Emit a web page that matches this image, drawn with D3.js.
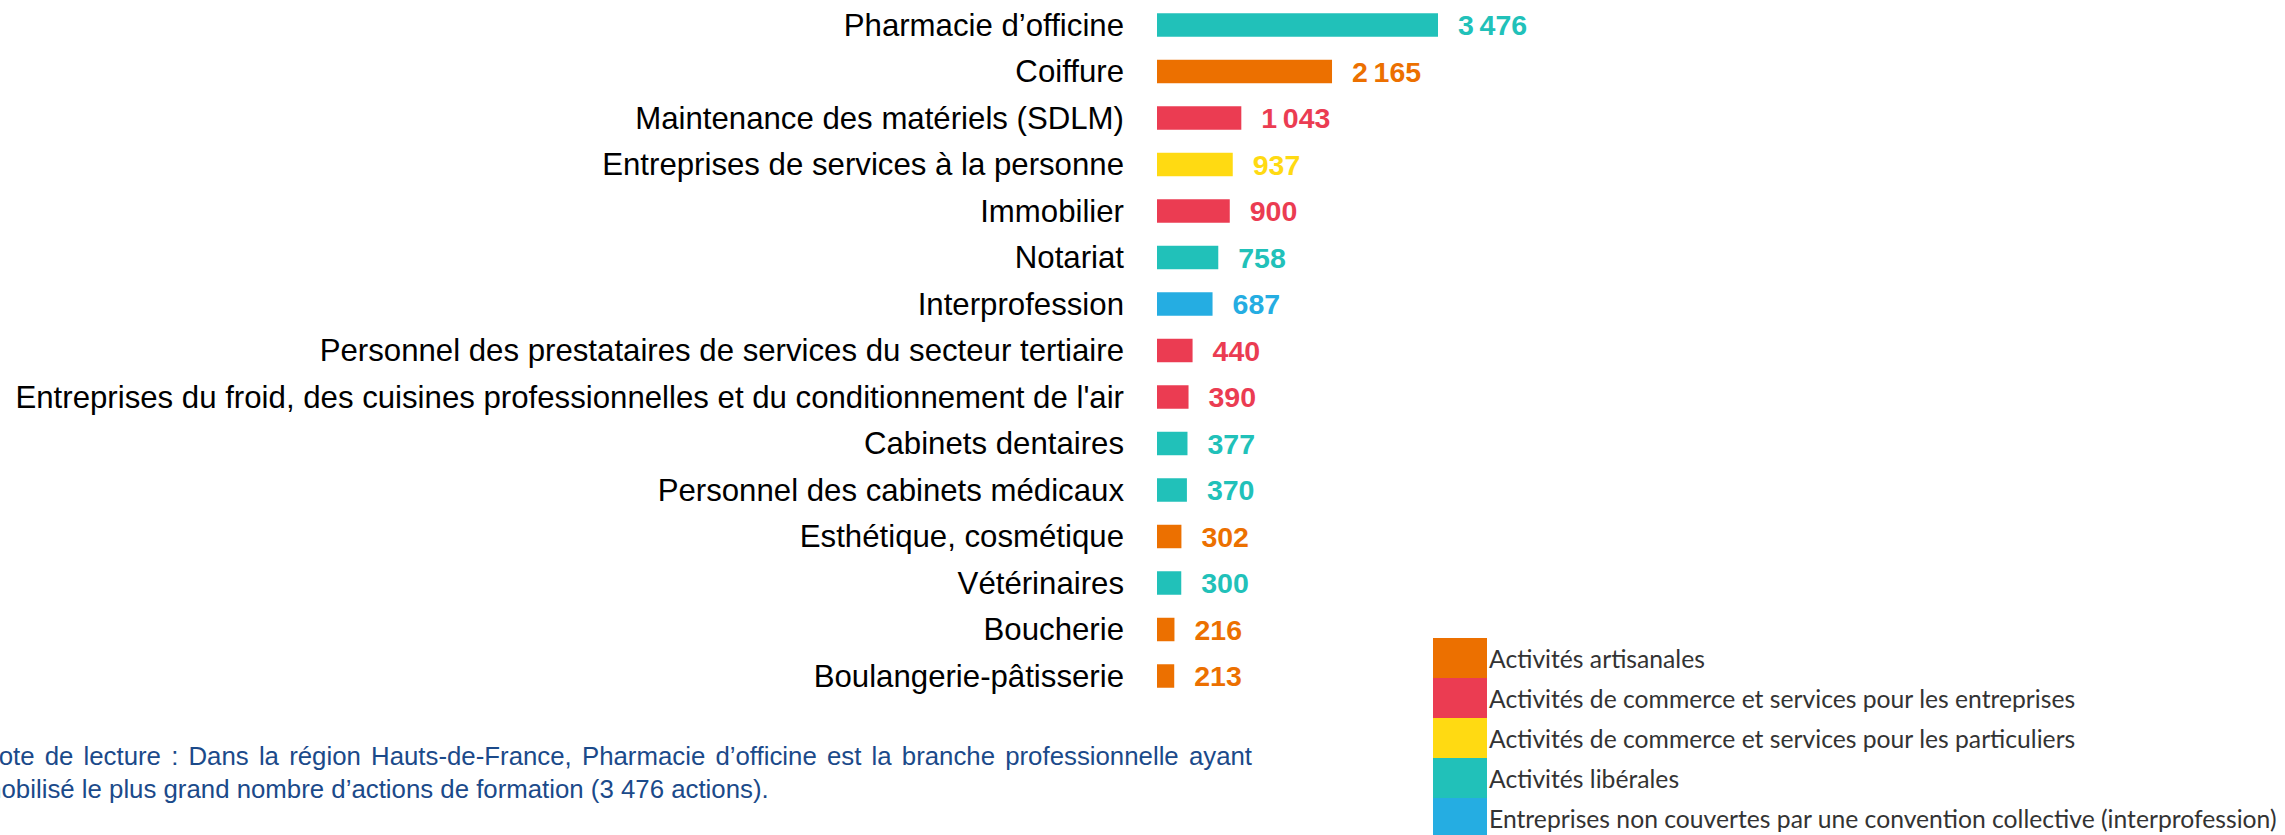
<!DOCTYPE html>
<html lang="fr">
<head>
<meta charset="utf-8">
<script src="https://cdn.jsdelivr.net/npm/d3@7"></script>
<style>
  html, body { margin: 0; padding: 0; background: #ffffff; }
  svg { display: block; }
</style>
</head>
<body>
<svg id="chart" width="2285" height="835"></svg>
<script>
// Branches professionnelles : nombre d'actions de formation (Hauts-de-France)
const branches = [
  "Pharmacie d’officine",
  "Coiffure",
  "Maintenance des matériels (SDLM)",
  "Entreprises de services à la personne",
  "Immobilier",
  "Notariat",
  "Interprofession",
  "Personnel des prestataires de services du secteur tertiaire",
  "Entreprises du froid, des cuisines professionnelles et du conditionnement de l'air",
  "Cabinets dentaires",
  "Personnel des cabinets médicaux",
  "Esthétique, cosmétique",
  "Vétérinaires",
  "Boucherie",
  "Boulangerie-pâtisserie"
];
const actions = [3476, 2165, 1043, 937, 900, 758, 687, 440, 390, 377, 370, 302, 300, 216, 213];
const secteurs = [
  "Activités libérales",
  "Activités artisanales",
  "Activités de commerce et services pour les entreprises",
  "Activités de commerce et services pour les particuliers",
  "Activités de commerce et services pour les entreprises",
  "Activités libérales",
  "Entreprises non couvertes par une convention collective (interprofession)",
  "Activités de commerce et services pour les entreprises",
  "Activités de commerce et services pour les entreprises",
  "Activités libérales",
  "Activités libérales",
  "Activités artisanales",
  "Activités libérales",
  "Activités artisanales",
  "Activités artisanales"
];
const legendLabels = [
  "Activités artisanales",
  "Activités de commerce et services pour les entreprises",
  "Activités de commerce et services pour les particuliers",
  "Activités libérales",
  "Entreprises non couvertes par une convention collective (interprofession)"
];
const legendColors = ["#EC7000", "#EB3C52", "#FFDA12", "#21C1B9", "#25ADE2"];
const noteLines = [
  "Note de lecture : Dans la région Hauts-de-France, Pharmacie d’officine est la branche professionnelle ayant",
  "mobilisé le plus grand nombre d’actions de formation (3 476 actions)."
];

const rows = branches.map((b, i) => ({ branche: b, valeur: actions[i], secteur: secteurs[i] }));

const svg = d3.select("#chart");

const color = d3.scaleOrdinal().domain(legendLabels).range(legendColors);

const barX0 = 1157;
const x = d3.scaleLinear()
  .domain([0, d3.max(actions)])
  .range([barX0, barX0 + 281]);

const y = d3.scaleBand()
  .domain(branches)
  .range([1.75, 699.25])
  .paddingInner(0.495)
  .paddingOuter(0.2475);

const fmt = v => d3.format(",")(v).replace(/,/g, "\u202F");

// Bars
svg.append("g").selectAll("rect")
  .data(rows)
  .join("rect")
  .attr("x", x(0))
  .attr("y", d => y(d.branche))
  .attr("width", d => x(d.valeur) - x(0))
  .attr("height", y.bandwidth())
  .attr("fill", d => color(d.secteur));

// Category labels
svg.append("g").selectAll("text")
  .data(rows)
  .join("text")
  .attr("x", barX0 - 33)
  .attr("y", d => y(d.branche) + y.bandwidth() / 2)
  .attr("dy", "0.35em")
  .attr("text-anchor", "end")
  .attr("font-family", "'Liberation Sans', Arial, sans-serif")
  .attr("font-size", 31.2)
  .attr("fill", "#000")
  .text(d => d.branche);

// Value labels
svg.append("g").selectAll("text")
  .data(rows)
  .join("text")
  .attr("x", d => x(d.valeur) + 20)
  .attr("y", d => y(d.branche) + y.bandwidth() / 2)
  .attr("dy", "0.36em")
  .attr("font-family", "'Liberation Sans', Arial, sans-serif")
  .attr("font-weight", "bold")
  .attr("font-size", 28.5)
  .attr("fill", d => color(d.secteur))
  .text(d => fmt(d.valeur));

// Legend
const legend = svg.append("g").attr("transform", "translate(1433,638)");
const item = legend.selectAll("g")
  .data(legendLabels)
  .join("g")
  .attr("transform", (d, i) => `translate(0,${i * 40})`);
item.append("rect")
  .attr("width", 54)
  .attr("height", 40)
  .attr("fill", d => color(d));
item.append("text")
  .attr("x", 56)
  .attr("y", 30)
  .attr("font-family", "Lato, 'Open Sans', sans-serif")
  .attr("font-size", 24.7)
  .attr("fill", "#333")
  .text(d => d);

// Reading note, justified on its first line
const note = svg.append("g")
  .attr("font-family", "'Liberation Sans', Arial, sans-serif")
  .attr("font-size", 25.8)
  .attr("fill", "#1B4A8A");
const noteX = -20, noteRight = 1252;
note.selectAll("text")
  .data(noteLines)
  .join("text")
  .attr("x", noteX)
  .attr("y", (d, i) => 765 + i * 33)
  .text(d => d)
  .each(function (d, i) {
    if (i === 0) {
      const natural = this.getComputedTextLength();
      const gaps = d.split(" ").length - 1;
      const extra = (noteRight - noteX - natural) / gaps;
      d3.select(this).attr("word-spacing", Math.max(0, extra));
    }
  });
</script>
</body>
</html>
